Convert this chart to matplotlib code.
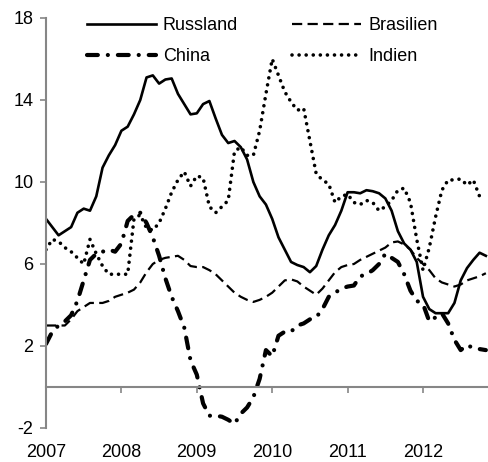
import matplotlib
matplotlib.use("Agg")
import matplotlib.pyplot as plt
import numpy as np

plt.rcParams["font.family"] = ["Liberation Sans", "DejaVu Sans"]
plt.rcParams["font.size"] = 13
plt.rcParams["axes.unicode_minus"] = False

# monthly values, Jan 2007 onwards
years = ["2007", "2008", "2009", "2010", "2011", "2012"]
russland = [8.2, 7.8, 7.4, 7.6, 7.8, 8.5, 8.7, 8.6, 9.3, 10.7,
            11.3, 11.8, 12.5, 12.7, 13.3, 14.0, 15.1, 15.2, 14.8, 15.0,
            15.05, 14.3, 13.8, 13.3, 13.35, 13.8, 13.95, 13.1, 12.3, 11.9,
            12.0, 11.7, 11.1, 10.0, 9.3, 8.9, 8.2, 7.3, 6.7, 6.1,
            5.95, 5.85, 5.6, 5.9, 6.7, 7.4, 7.9, 8.6, 9.5, 9.5,
            9.45, 9.6, 9.55, 9.45, 9.2, 8.6, 7.6, 7.0, 6.7, 6.1,
            4.4, 3.8, 3.6, 3.6, 3.6, 4.1, 5.2, 5.8, 6.2, 6.55, 6.4]
brasilien = [3.0, 3.0, 3.0, 3.0, 3.3, 3.7, 3.9, 4.1, 4.1, 4.1,
             4.2, 4.4, 4.5, 4.6, 4.75, 5.1, 5.6, 6.0, 6.2, 6.3,
             6.35, 6.4, 6.2, 5.9, 5.85, 5.85, 5.7, 5.5, 5.2, 4.9,
             4.6, 4.4, 4.25, 4.15, 4.25, 4.4, 4.6, 4.9, 5.2, 5.25,
             5.15, 4.9, 4.7, 4.5, 4.8, 5.2, 5.6, 5.85, 5.95, 6.0,
             6.2, 6.35, 6.5, 6.65, 6.8, 7.05, 7.1, 6.95, 6.7, 6.3,
             6.0, 5.7, 5.3, 5.1, 5.0, 4.9, 5.0, 5.2, 5.3, 5.4, 5.55]
china = [2.1, 2.7, 3.0, 3.2, 3.5, 4.2, 5.2, 6.2, 6.5, 6.6,
         6.7, 6.6, 7.0, 8.1, 8.4, 8.5, 8.0, 7.3, 6.4, 5.3,
         4.4, 3.7, 2.9, 1.3, 0.6, -0.8, -1.4, -1.4, -1.45, -1.6,
         -1.8, -1.3, -1.0, -0.5, 0.4, 1.8, 1.5, 2.5, 2.7, 2.7,
         3.0, 3.1, 3.3, 3.4, 3.8, 4.4, 4.6, 4.8, 4.9, 4.95,
         5.4, 5.5, 5.7, 6.0, 6.5, 6.3, 6.1, 5.5, 4.7, 4.2,
         4.05, 3.2, 3.4, 3.6, 3.1, 2.3, 1.8, 2.05, 1.9, 1.85, 1.8]
indien = [6.7, 7.2, 7.1, 6.8, 6.6, 6.3, 6.0, 7.2, 6.5, 5.9,
          5.5, 5.5, 5.5, 5.5, 8.2, 8.4, 7.75, 7.65, 8.0, 8.7,
          9.5, 10.1, 10.5, 9.8, 10.3, 10.2, 8.8, 8.5, 8.8, 9.1,
          11.5, 11.7, 11.3, 11.3, 12.5, 14.3, 16.0, 15.2, 14.4, 13.9,
          13.5, 13.6, 12.0, 10.4, 10.1, 9.9, 9.0, 9.3, 9.4, 9.0,
          8.9, 9.1, 9.0, 8.6, 8.8, 9.1, 9.6, 9.7, 9.0, 7.2,
          5.7, 6.8, 8.3, 9.6, 10.1, 10.1, 10.15, 9.85, 10.1, 9.3]

fig = plt.figure(figsize=(4.89, 4.62), dpi=100)
ax = fig.add_axes([46 / 489, 34 / 462, 443 / 489, 410 / 462])

l_ru, = ax.plot(np.arange(len(russland)), russland, color="black", lw=1.9,
                solid_joinstyle="round", label="Russland")
l_br, = ax.plot(np.arange(len(brasilien)), brasilien, color="black", lw=1.6,
                linestyle=(0, (4.6, 2.4)), label="Brasilien")
l_cn, = ax.plot(np.arange(len(china)), china, color="black", lw=3.0,
                linestyle=(0, (2.6, 2.4, 0.01, 2.4)), dash_capstyle="round",
                label="China")
l_in, = ax.plot(np.arange(len(indien)), indien, color="black", lw=2.6,
                linestyle=(0, (0.01, 1.95)), dash_capstyle="round", label="Indien")

ax.set_xlim(0, 70.5)
ax.set_ylim(-2, 18)
ax.set_yticks([-2, 2, 6, 10, 14, 18])
ax.set_xticks(np.arange(len(years)) * 12)
ax.set_xticklabels(years)

grey = "#868686"
for s in ["top", "right"]:
    ax.spines[s].set_visible(False)
ax.spines["left"].set_color(grey)
ax.spines["bottom"].set_color(grey)
ax.spines["left"].set_linewidth(1.5)
ax.spines["bottom"].set_linewidth(1.5)
ax.spines["bottom"].set_position(("data", 0))
ax.tick_params(axis="y", direction="out", length=4, width=1.2, color=grey, pad=5)
ax.tick_params(axis="x", direction="out", length=4, width=1.2, color=grey, pad=37)

# column-wise fill: Russland/China left, Brasilien/Indien right
fig.legend([l_ru, l_cn, l_br, l_in], ["Russland", "China", "Brasilien", "Indien"],
           loc="upper left", bbox_to_anchor=(87 / 489, 445 / 462), ncol=2,
           frameon=False, handlelength=3.8, handletextpad=0.4,
           columnspacing=3.0, labelspacing=0.8, borderpad=0,
           borderaxespad=0, fontsize=13)

fig.savefig("out.png", dpi=100)
